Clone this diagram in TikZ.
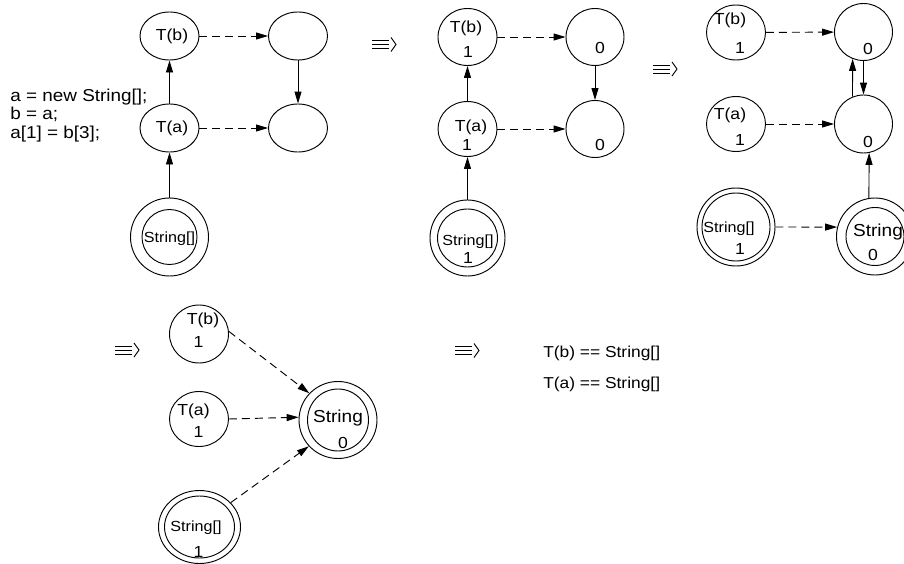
\documentclass[tikz,border=0pt]{standalone}
\usepackage{fontspec}
\setmainfont{Liberation Sans}[FakeStretch=1.1]
\usetikzlibrary{arrows.meta,shapes.geometric}

\tikzset{
  ell/.style 2 args={draw, ellipse, inner sep=0pt, line width=0.7pt,
    minimum width=#1*0.75pt, minimum height=#2*0.75pt},
  lbl/.style={inner sep=0pt, font=\fontsize{12}{14}\selectfont},
  smalllbl/.style={inner sep=0pt, font=\fontsize{11}{13}\selectfont},
  biglbl/.style={inner sep=0pt, font=\fontsize{13}{15}\selectfont},
  codeline/.style={inner sep=0pt, anchor=base west, font=\fontsize{12.9}{15}\selectfont},
  result/.style={inner sep=0pt, anchor=base west, font=\fontsize{11.85}{14}\selectfont},
  link/.style={line width=0.7pt, -{Triangle[length=9pt,width=5.25pt]}},
  dlink/.style={link, dash pattern=on 6pt off 3.75pt},
  implies/.pic={
    \draw[line width=0.7pt] (0,-4)--(17,-4) (0,0)--(17,0) (0,4)--(17,4);
    \draw[line width=0.7pt] (19,-7)--(24,0)--(19,7);
  }
}

\begin{document}
\begin{tikzpicture}[x=0.75pt, y=-0.75pt]
\useasboundingbox (0,0) rectangle (904,564);

% ---------- source fragment ----------
\node[codeline] (code1) at (10,101) {a = new String[];};
\node[codeline] (code2) at (10,119.5) {b = a;};
\node[codeline] (code3) at (10,138) {a[1] = b[3];};

% ---------- stage 1 ----------
\node[ell={59}{48}] (Tb1) at (169.5,36) {};
\node[ell={59}{48}] (Ta1) at (169.5,128) {};
\node[ell={59}{48}] (R1a) at (298,36) {};
\node[ell={59}{48}] (R1b) at (298,128) {};
\node[ell={78}{78}] (S1) at (169.5,237) {};
\node[ell={55}{55}] (S1i) at (169.5,237) {};
\node[lbl] (Tb1t) at (172,36) {T(b)};
\node[lbl] (Ta1t) at (172,128) {T(a)};
\node[smalllbl] (S1t) at (169.5,239) {String[]};
\draw[link] (S1) -- (Ta1);
\draw[link] (Ta1) -- (Tb1);
\draw[link] (R1a) -- (R1b);
\draw[dlink] (Tb1) -- (R1a);
\draw[dlink] (Ta1) -- (R1b);

\pic at (372,44.5) {implies};

% ---------- stage 2 ----------
\node[ell={59}{57}] (Tb2) at (467.5,37) {};
\node[ell={59}{55}] (Ta2) at (467.5,129) {};
\node[ell={58}{57}] (R2a) at (595,37) {};
\node[ell={58}{57}] (R2b) at (595,129) {};
\node[ell={75}{76}] (S2) at (467.5,238) {};
\node[ell={60}{58}] (S2i) at (467.5,238) {};
\node[lbl] (Tb2t) at (466,28.5) {T(b)};
\node[lbl] (Tb2n) at (468,52) {1};
\node[lbl] (Ta2t) at (471,127) {T(a)};
\node[lbl] (Ta2n) at (467,145) {1};
\node[lbl] (R2an) at (600,48) {0};
\node[lbl] (R2bn) at (600,145) {0};
\node[smalllbl] (S2t) at (468,242) {String[]};
\node[lbl] (S2n) at (468,258) {1};
\draw[link] (S2) -- (Ta2);
\draw[link] (Ta2) -- (Tb2);
\draw[link] (R2a) -- (R2b);
\draw[dlink] (Tb2) -- (R2a);
\draw[dlink] (Ta2) -- (R2b);

\pic at (653,69) {implies};

% ---------- stage 3 ----------
\node[ell={59}{55}] (Tb3) at (736,32.5) {};
\node[ell={59}{55}] (Ta3) at (736,124) {};
\node[ell={58}{57}] (R3a) at (863.5,32) {};
\node[ell={58}{58}] (R3b) at (863.5,124) {};
\node[ell={78}{78}] (S3L) at (736,227) {};
\node[ell={68}{68}] (S3Li) at (736,227) {};
\node[ell={77}{77}] (S3R) at (875,236.5) {};
\node[ell={58}{58}] (S3Ri) at (875,236.5) {};
\node[lbl] (Tb3t) at (730,20) {T(b)};
\node[lbl] (Tb3n) at (740,48) {1};
\node[lbl] (Ta3t) at (730,115) {T(a)};
\node[lbl] (Ta3n) at (740,140) {1};
\node[lbl] (R3an) at (868,49) {0};
\node[lbl] (R3bn) at (868,142) {0};
\node[smalllbl] (S3Lt) at (729,229) {String[]};
\node[lbl] (S3Ln) at (740,249) {1};
\node[biglbl] (S3Rt) at (878,232) {String};
\node[lbl] (S3Rn) at (873,255) {0};
\draw[dlink] (Tb3) -- (R3a);
\draw[dlink] (Ta3) -- (R3b);
\draw[link] (R3a.south) -- (R3b.north);
\draw[link] (R3b.112) -- (R3a.248);
\draw[link] (S3R.99) -- (R3b.281);
\draw[dlink] (S3L.east) -- (S3R.166);

% ---------- stage 4 ----------
\pic at (115,350) {implies};

\node[ell={59}{58}] (Tb4) at (199,334) {};
\node[ell={59}{55}] (Ta4) at (199,419) {};
\node[ell={82}{73}] (S4L) at (199.5,527) {};
\node[ell={70}{62}] (S4Li) at (199.5,527) {};
\node[ell={78}{77}] (S4R) at (338,420) {};
\node[ell={61}{62}] (S4Ri) at (338,420) {};
\node[lbl] (Tb4t) at (203,320) {T(b)};
\node[lbl] (Tb4n) at (198.5,342) {1};
\node[lbl] (Ta4t) at (193.5,411.7) {T(a)};
\node[lbl] (Ta4n) at (198.5,432) {1};
\node[smalllbl] (S4Lt) at (196,528) {String[]};
\node[lbl] (S4Ln) at (198.5,551.7) {1};
\node[biglbl] (S4Rt) at (338,418) {String};
\node[lbl] (S4Rn) at (343,443) {0};
\draw[dlink] (Tb4.5) -- (S4R.137);
\draw[dlink] (Ta4.east) -- (S4R.176);
\draw[dlink] (S4L.38) -- (S4R.222);

% ---------- conclusion ----------
\pic at (455,350.5) {implies};
\node[result] (res1) at (543,357.3) {T(b) == String[]};
\node[result] (res2) at (543,388.3) {T(a) == String[]};
\end{tikzpicture}
\end{document}
